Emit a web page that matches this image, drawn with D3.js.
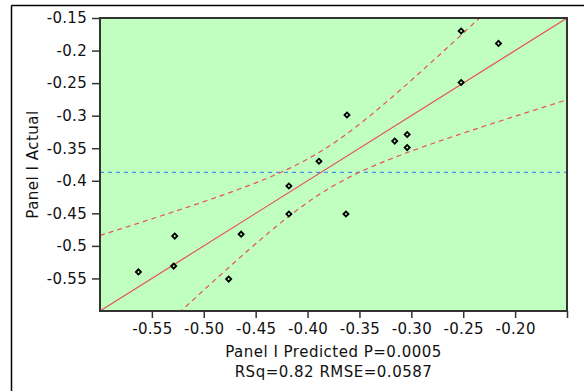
<!DOCTYPE html>
<html>
<head>
<meta charset="utf-8">
<script src="https://cdn.jsdelivr.net/npm/d3@7"></script>
<style>
  html, body { margin: 0; padding: 0; background: #fff; }
  svg { display: block; }
  text { font-family: "DejaVu Sans", Verdana, sans-serif; fill: #111; }
</style>
</head>
<body>
<svg id="chart" width="584" height="391"></svg>
<script>
// Panel I: actual vs. predicted values
const predicted = [-0.563, -0.529, -0.528, -0.476, -0.464, -0.418, -0.418, -0.389,
                   -0.362, -0.363, -0.316, -0.304, -0.304, -0.252, -0.252, -0.216];
const actual    = [-0.540, -0.531, -0.485, -0.551, -0.482, -0.408, -0.451, -0.370,
                   -0.299, -0.451, -0.339, -0.329, -0.349, -0.170, -0.249, -0.189];

// Axis ticks
const xTicks = [-0.55, -0.50, -0.45, -0.40, -0.35, -0.30, -0.25, -0.20, -0.15];
const xTickLabels = ["-0.55", "-0.50", "-0.45", "-0.40", "-0.35", "-0.30", "-0.25", "-0.20", ""];
const yTicks = [-0.55, -0.50, -0.45, -0.40, -0.35, -0.30, -0.25, -0.20, -0.15];
const yTickLabels = ["-0.55", "-0.5", "-0.45", "-0.4", "-0.35", "-0.3", "-0.25", "-0.2", "-0.15"];

// Fit summary
const nObs = 16;
const modelDF = 4;
const rmse = 0.0587;
const rsq = 0.82;
const pValue = "0.0005";
const tCrit = 2.201;   // t(0.975, 11)
const fCrit = 3.357;   // F(0.95; 4, 11)

const svg = d3.select("#chart");
const L = 100, T = 18, R = 567, B = 311;

const x = d3.scaleLinear().domain([-0.6, -0.15]).range([L, R]);
const y = d3.scaleLinear().domain([-0.6, -0.15]).range([B, T]);

// Outer report frame
svg.append("line").attr("x1", 11.5).attr("x2", 584).attr("y1", 5.5).attr("y2", 5.5)
  .attr("stroke", "#000").attr("stroke-width", 1.5);
svg.append("line").attr("x1", 11.5).attr("x2", 11.5).attr("y1", 5.5).attr("y2", 391)
  .attr("stroke", "#000").attr("stroke-width", 1.5);

// Plot background
svg.append("rect").attr("x", L).attr("y", T).attr("width", R - L).attr("height", B - T)
  .attr("fill", "#c0ffc0");

svg.append("clipPath").attr("id", "plotClip")
  .append("rect").attr("x", L).attr("y", T).attr("width", R - L).attr("height", B - T);

const plot = svg.append("g").attr("clip-path", "url(#plotClip)");

const yMean = d3.mean(actual);
const xMean = d3.mean(predicted);

// Mean of response
plot.append("line")
  .attr("x1", L).attr("x2", R).attr("y1", y(yMean)).attr("y2", y(yMean))
  .attr("stroke", "#4a8fe6").attr("stroke-width", 1.2).attr("stroke-dasharray", "4,4");

// Line of fit (actual = predicted)
plot.append("line")
  .attr("x1", x(-0.6)).attr("y1", y(-0.6)).attr("x2", x(-0.15)).attr("y2", y(-0.15))
  .attr("stroke", "#e8505e").attr("stroke-width", 1.2);

// Confidence curves for the whole-model leverage plot
const dfe = nObs - modelDF - 1;
const fStat = (rsq / modelDF) / ((1 - rsq) / dfe);
const hBar = 1 / nObs;
const halfWidth = z => Math.sqrt(rmse * rmse * tCrit * tCrit * hBar + (fCrit / fStat) * z * z);
const grid = d3.range(-0.6, -0.1499, 0.0025);
const upper = d3.line().x(v => x(v)).y(v => y(v + halfWidth(v - xMean)));
const lower = d3.line().x(v => x(v)).y(v => y(v - halfWidth(v - xMean)));
[upper, lower].forEach(gen => {
  plot.append("path").attr("d", gen(grid))
    .attr("fill", "none").attr("stroke", "#e8505e").attr("stroke-width", 1.2)
    .attr("stroke-dasharray", "5,4");
});

// Points: small hollow diamonds
const marker = d3.symbol().type(d3.symbolSquare).size(13);
svg.append("g").selectAll("path.pt").data(predicted).join("path")
  .attr("class", "pt")
  .attr("transform", (d, i) => `translate(${x(d)},${y(actual[i])}) rotate(45)`)
  .attr("d", marker)
  .attr("fill", "none").attr("stroke", "#000").attr("stroke-width", 1.8);

// Plot frame
svg.append("rect").attr("x", L).attr("y", T).attr("width", R - L).attr("height", B - T)
  .attr("fill", "none").attr("stroke", "#333").attr("stroke-width", 2);

// Axes
const xAxis = d3.axisBottom(x).tickValues(xTicks)
  .tickFormat((d, i) => xTickLabels[i]).tickSize(7).tickSizeOuter(0).tickPadding(5);
const gx = svg.append("g").attr("transform", `translate(0,${B})`).call(xAxis);
gx.select(".domain").remove();
gx.selectAll(".tick line").attr("stroke", "#333").attr("stroke-width", 1.5);
gx.selectAll(".tick text").attr("font-size", 15).attr("letter-spacing", "0.3px")
  .attr("fill", "#111").attr("font-family", "DejaVu Sans");

const yAxis = d3.axisLeft(y).tickValues(yTicks)
  .tickFormat((d, i) => yTickLabels[i]).tickSize(8).tickSizeOuter(0).tickPadding(5);
const gy = svg.append("g").attr("transform", `translate(${L},0)`).call(yAxis);
gy.select(".domain").remove();
gy.selectAll(".tick line").attr("stroke", "#333").attr("stroke-width", 1.5);
gy.selectAll(".tick text").attr("font-size", 15).attr("letter-spacing", "0.3px")
  .attr("fill", "#111").attr("font-family", "DejaVu Sans");

// Axis titles
svg.append("text")
  .attr("x", (L + R) / 2).attr("y", 357).attr("text-anchor", "middle")
  .attr("font-size", 15).attr("letter-spacing", "0.5px")
  .text(`Panel I Predicted P=${pValue}`);
svg.append("text")
  .attr("x", (L + R) / 2).attr("y", 377).attr("text-anchor", "middle")
  .attr("font-size", 15).attr("letter-spacing", "0.5px")
  .text(`RSq=${rsq.toFixed(2)} RMSE=${rmse.toFixed(4)}`);
svg.append("text")
  .attr("transform", `translate(38,${(T + B) / 2}) rotate(-90)`)
  .attr("text-anchor", "middle")
  .attr("font-size", 15).attr("letter-spacing", "0.5px")
  .text("Panel I Actual");
</script>
</body>
</html>
